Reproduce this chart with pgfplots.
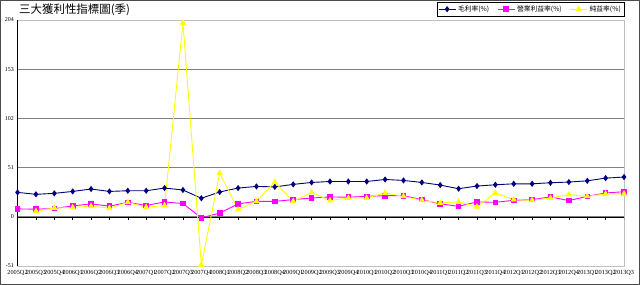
\documentclass[border=0pt]{standalone}
\usepackage{fontspec}
\usepackage{pgfplots}
\pgfplotsset{compat=1.18}
\setmainfont{Liberation Serif}
\newfontfamily\cjk{Noto Sans CJK TC}
\definecolor{cblue}{RGB}{0,0,128}
\definecolor{cmag}{RGB}{255,0,255}
\definecolor{cyel}{RGB}{255,255,0}
\definecolor{gridg}{RGB}{128,128,128}
\definecolor{frameg}{RGB}{192,192,192}
\begin{document}
\begin{tikzpicture}
\useasboundingbox (0,0) rectangle (640bp,285bp);
\draw[gray!60!black, line width=1pt] (0.5bp,0.5bp) rectangle (639.5bp,284.5bp);
\node[anchor=west, font=\cjk\fontsize{11.5}{12}\selectfont, inner sep=0pt] at (19bp,275bp) {三大獲利性指標圖(季)};
\begin{axis}[at={(17bp,19bp)}, anchor=south west, scale only axis,
  width=607bp, height=246bp,
  xmin=-0.03, xmax=33, ymin=-51, ymax=204,
  ytick={-51,0,51,102,153,204},
  xtick={0,...,33},
  xticklabels={2005Q2,2005Q3,2005Q4,2006Q1,2006Q2,2006Q3,2006Q4,2007Q1,2007Q2,2007Q3,2007Q4,2008Q1,2008Q2,2008Q3,2008Q4,2009Q1,2009Q2,2009Q3,2009Q4,2010Q1,2010Q2,2010Q3,2010Q4,2011Q1,2011Q2,2011Q3,2011Q4,2012Q1,2012Q2,2012Q3,2012Q4,2013Q1,2013Q2,2013Q3},
  xtick style={draw=none},
  ytick style={draw=none},
  ymajorgrids, grid style={gridg, line width=0.9pt},
  axis line style={frameg, line width=0.8pt},
  /pgf/number format/assume math mode=true,
  xticklabel style={font=\fontsize{6.3}{6.3}\selectfont, inner sep=0pt, yshift=-4bp},
  yticklabel style={font=\fontsize{6}{6}\selectfont, inner sep=0pt, xshift=-3bp},
  legend style={at={(1,1)}, anchor=south east, yshift=4bp, font=\cjk\fontsize{6.8}{7}\selectfont,
    draw=black, inner sep=1bp, row sep=-1pt, /tikz/every even column/.append style={column sep=6bp}},
  legend columns=3,
  every axis plot/.append style={line width=0.9pt},
  unbounded coords=jump,
]
\draw[black, line width=0.6pt] (rel axis cs:0,0) -- (rel axis cs:0,1);
\draw[black, line width=0.6pt] (axis cs:-0.03,0) -- (axis cs:33,0);
\pgfplotsinvokeforeach{1,...,33}{\draw[black, line width=0.5pt] (axis cs:#1,0) -- ([yshift=-3bp]axis cs:#1,0);}
\addplot[color=cblue, mark=diamond*, mark size=2.4bp, mark options={fill=cblue}] table[row sep=\\] {
x y\\ 0 25.3\\ 1 23.3\\ 2 24.3\\ 3 26.3\\ 4 28.8\\ 5 26.3\\ 6 27.0\\ 7 27.0\\ 8 29.8\\ 9 27.8\\
10 19.2\\ 11 25.7\\ 12 29.8\\ 13 31.5\\ 14 31.0\\ 15 33.6\\ 16 35.6\\ 17 36.6\\ 18 36.6\\ 19 36.6\\
20 38.7\\ 21 37.7\\ 22 35.6\\ 23 32.9\\ 24 29.1\\ 25 31.9\\ 26 33.2\\ 27 34.2\\ 28 34.2\\ 29 35.3\\
30 36.0\\ 31 37.3\\ 32 40.1\\ 33 41.2\\ };
\addlegendentry{毛利率(\%)}
\addplot[color=cmag, mark=square*, mark size=2.3bp, mark options={fill=cmag}] table[row sep=\\] {
x y\\ 0 8.2\\ 1 7.9\\ 2 8.6\\ 3 11.3\\ 4 13.4\\ 5 11.0\\ 6 15.0\\ 7 11.7\\ 8 15.4\\ 9 13.7\\
10 -1.0\\ 11 3.8\\ 12 13.4\\ 13 16.0\\ 14 16.0\\ 15 17.8\\ 16 19.5\\ 17 20.6\\ 18 20.3\\ 19 21.2\\
20 21.9\\ 21 21.9\\ 22 17.8\\ 23 13.4\\ 24 10.9\\ 25 15.4\\ 26 15.0\\ 27 17.1\\ 28 17.8\\ 29 20.6\\
30 16.8\\ 31 21.2\\ 32 24.7\\ 33 26.0\\ };
\addlegendentry{營業利益率(\%)}
\addplot[color=cyel, mark=triangle*, mark size=2.8bp, mark options={fill=cyel}] table[row sep=\\] {
x y\\ 1 5.8\\ 2 9.2\\ 3 9.6\\ 4 11.0\\ 5 8.9\\ 6 15.0\\ 7 9.9\\ 8 11.7\\ 9 201\\
10 -50\\ 11 45.2\\ 12 7.5\\ 13 16.0\\ 14 36.0\\ 15 16.0\\ 16 25.3\\ 17 16.8\\ 18 19.5\\ 19 19.5\\
20 24.7\\ 21 21.2\\ 22 17.1\\ 23 14.4\\ 24 15.4\\ 25 10.3\\ 26 24.7\\ 27 17.8\\ 28 17.1\\ 29 19.5\\
30 23.0\\ 31 21.2\\ 32 23.7\\ 33 23.7\\ };
\addlegendentry{純益率(\%)}
\end{axis}
\end{tikzpicture}
\end{document}
